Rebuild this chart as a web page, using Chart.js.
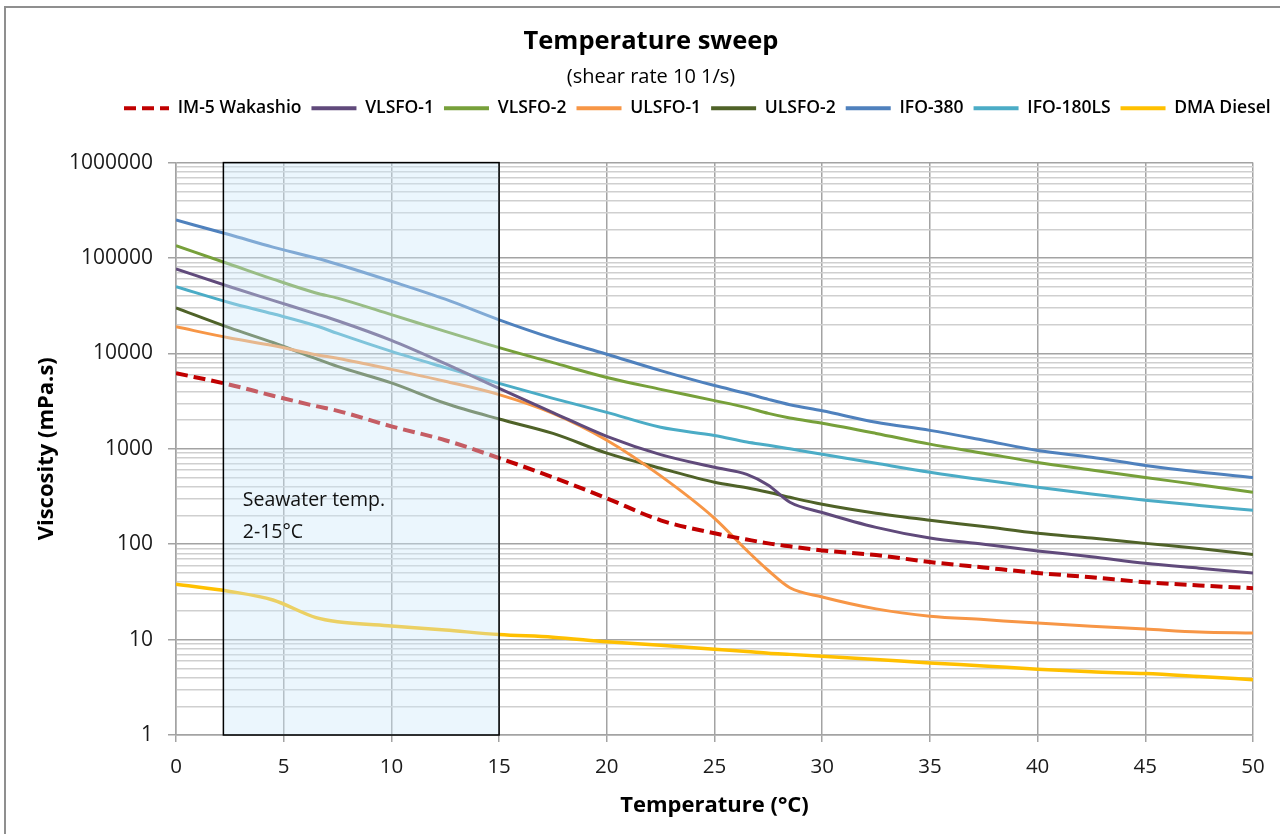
<!DOCTYPE html>
<html>
<head>
<meta charset="utf-8">
<title>Temperature sweep</title>
<script src="https://cdn.jsdelivr.net/npm/chart.js@4.4.1/dist/chart.umd.min.js"></script>
<style>
  html, body { margin: 0; padding: 0; background: #ffffff; }
  #wrap { width: 1280px; height: 834px; }
</style>
</head>
<body>
<div id="wrap"><canvas id="chart" width="1280" height="834"></canvas></div>
<script>
// ---------------- data ----------------
const temps = [0, 2.5, 4.5, 6.5, 7.5, 10, 12.5, 15, 17.5, 20, 22.5, 25, 26.5, 27.5, 28.5, 30, 32.5, 35, 37.5, 40, 42.5, 45, 47.5, 50];

const im5Wakashio = [6200, 4700, 3600, 2800, 2500, 1720, 1230, 800, 503, 303, 178, 130, 112, 102, 95, 86, 77, 65, 57, 50, 45, 40, 37, 34.6];
const vlsfo1      = [77000, 50000, 36000, 26000, 22000, 13700, 7800, 4300, 2400, 1350, 870, 640, 540, 415, 275, 215, 150, 116, 100, 85, 74, 63, 56, 50];
const vlsfo2      = [135000, 86000, 60000, 43000, 38000, 25500, 17000, 11500, 8000, 5600, 4200, 3200, 2700, 2350, 2100, 1850, 1450, 1120, 900, 720, 600, 500, 420, 350];
const ulsfo1      = [19000, 14500, 12100, 9700, 8900, 6800, 5100, 3700, 2350, 1230, 520, 187, 86, 53, 35, 28, 21, 17.6, 16.2, 14.9, 13.8, 12.9, 12, 11.7];
const ulsfo2      = [30000, 18500, 13000, 8800, 7300, 4900, 3000, 2050, 1450, 900, 625, 446, 390, 350, 310, 262, 211, 178, 153, 130, 116, 102, 90, 78];
const ifo380      = [250000, 175000, 130000, 100000, 86000, 57000, 37000, 22500, 14400, 9800, 6600, 4600, 3800, 3300, 2900, 2500, 1900, 1560, 1230, 960, 815, 670, 570, 500];
const ifo180ls    = [50000, 34000, 26000, 19500, 16200, 10500, 7100, 4850, 3380, 2410, 1680, 1380, 1180, 1090, 1000, 875, 704, 568, 470, 395, 335, 289, 255, 227];
const dmaDiesel   = [38, 32, 26, 17, 15.4, 13.9, 12.6, 11.3, 10.6, 9.5, 8.7, 7.9, 7.5, 7.2, 7.0, 6.7, 6.2, 5.7, 5.3, 4.9, 4.6, 4.4, 4.1, 3.8];

const seriesNames = ['IM-5 Wakashio', 'VLSFO-1', 'VLSFO-2', 'ULSFO-1', 'ULSFO-2', 'IFO-380', 'IFO-180LS', 'DMA Diesel'];
const seriesValues = [im5Wakashio, vlsfo1, vlsfo2, ulsfo1, ulsfo2, ifo380, ifo180ls, dmaDiesel];
const seriesColors = ['#C00000', '#604A7B', '#77A03A', '#F79646', '#4F6228', '#4F81BD', '#4BACC6', '#FFC000'];

const xTickValues = [0, 5, 10, 15, 20, 25, 30, 35, 40, 45, 50];
const yTickLabels = [1, 10, 100, 1000, 10000, 100000, 1000000];

const seawaterRange = [2.2, 15];
const seawaterText = ['Seawater temp.', '2-15°C'];
const seawaterTextAt = [3.1, 285];

const titleText = 'Temperature sweep';
const subtitleText = '(shear rate 10 1/s)';
const xTitle = 'Temperature (°C)';
const yTitle = 'Viscosity (mPa.s)';

// ---------------- helpers ----------------
const yGridValues = [];
for (let i = 0; i < yTickLabels.length - 1; i++) {
  for (let m = 1; m <= 9; m++) yGridValues.push(m * yTickLabels[i]);
}
yGridValues.push(yTickLabels[yTickLabels.length - 1]);
const isMajor = v => yTickLabels.includes(v);

const GRID_MAJOR = '#a3a3a3';
const GRID_MINOR = '#cfcfcf';
const TICK_COLOR = '#1a1a1a';

Chart.defaults.font.family = "'Open Sans', 'Noto Sans', sans-serif";
Chart.defaults.color = TICK_COLOR;

const datasets = seriesNames.map((name, i) => ({
  label: name,
  data: temps.map((t, k) => ({ x: t, y: seriesValues[i][k] })),
  borderColor: seriesColors[i],
  backgroundColor: seriesColors[i],
  borderWidth: i === 0 ? 4 : (i === 7 ? 3.5 : 3),
  borderDash: i === 0 ? [12, 6] : [],
  pointRadius: 0,
  pointHoverRadius: 0,
  fill: false,
  cubicInterpolationMode: 'monotone'
}));

const LEGEND_X = 124;
const LEGEND_H = 73;
const TITLE_CENTER = 651;

const decor = {
  id: 'decor',
  afterInit(chart) {
    const L = chart.legend;
    if (L) {
      const fit0 = L.fit.bind(L);
      L.fit = function () { fit0(); this.height = LEGEND_H; };
      const draw0 = L.draw.bind(L);
      L.draw = function () {
        const c = this.ctx;
        c.save();
        c.translate(LEGEND_X - (this.left + this.options.labels.padding), 0);
        draw0();
        c.restore();
      };
    }
    chart.boxes.forEach(b => {
      if (b !== L && b.options && (b.options.text === titleText || b.options.text === subtitleText)) {
        const d0 = b.draw.bind(b);
        b.draw = function () {
          const c = this.ctx;
          c.save();
          c.translate(TITLE_CENTER - (this.left + this.right) / 2, 0);
          d0();
          c.restore();
        };
      }
    });
  },
  beforeDraw(chart) {
    const c = chart.ctx;
    c.save();
    c.fillStyle = '#ffffff';
    c.fillRect(0, 0, chart.width, chart.height);
    c.strokeStyle = '#8f8f8f';
    c.lineWidth = 2;
    c.strokeRect(5, 7, chart.width + 40, chart.height + 40);
    c.restore();
  },
  afterDatasetsDraw(chart) {
    const c = chart.ctx;
    const xs = chart.scales.x, ys = chart.scales.y, a = chart.chartArea;
    const x0 = xs.getPixelForValue(seawaterRange[0]);
    const x1 = xs.getPixelForValue(seawaterRange[1]);
    c.save();
    c.fillStyle = 'rgba(205, 232, 250, 0.4)';
    c.fillRect(x0, a.top, x1 - x0, a.bottom - a.top);
    c.strokeStyle = '#000000';
    c.lineWidth = 1.5;
    c.strokeRect(x0, a.top, x1 - x0, a.bottom - a.top);
    c.fillStyle = '#111111';
    c.font = "19.5px 'Open Sans', sans-serif";
    c.textAlign = 'left';
    c.textBaseline = 'middle';
    const tx = xs.getPixelForValue(seawaterTextAt[0]);
    const ty = ys.getPixelForValue(seawaterTextAt[1]);
    seawaterText.forEach((s, i) => c.fillText(s, tx, ty + i * 32));
    c.restore();
  }
};

new Chart(document.getElementById('chart').getContext('2d'), {
  type: 'line',
  data: { datasets },
  options: {
    responsive: false,
    animation: false,
    devicePixelRatio: 1,
    events: [],
    layout: { padding: { top: 18, left: 0, right: 27, bottom: 0 } },
    plugins: {
      title: {
        display: true, text: titleText, color: '#000000',
        font: { size: 25.5, weight: 'bold' }, padding: { top: 8, bottom: 2 }
      },
      subtitle: {
        display: true, text: subtitleText, color: '#000000',
        font: { size: 20, weight: 'normal' }, padding: { top: 7, bottom: 0 }
      },
      legend: {
        display: true, position: 'top', align: 'start',
        labels: {
          usePointStyle: true, pointStyle: 'line', pointStyleWidth: 45, boxWidth: 45,
          padding: 10, color: '#000000', font: { size: 17.5, weight: '600' },
          generateLabels: chart => {
            const items = Chart.defaults.plugins.legend.labels.generateLabels(chart);
            items.forEach(it => {
              const ds = chart.data.datasets[it.datasetIndex];
              it.lineDash = ds.borderDash;
              it.lineWidth = 4;
              it.strokeStyle = ds.borderColor;
              it.fillStyle = ds.borderColor;
              it.pointStyle = 'line';
            });
            return items;
          }
        }
      },
      tooltip: { enabled: false }
    },
    scales: {
      x: {
        type: 'linear', min: 0, max: 50,
        afterBuildTicks: s => { s.ticks = xTickValues.map(v => ({ value: v })); },
        afterFit: s => { s.height = 99; },
        ticks: { autoSkip: false, maxRotation: 0, padding: 13, color: TICK_COLOR, font: { size: 20.5 } },
        grid: { color: GRID_MAJOR, lineWidth: 1.5, tickLength: 7, tickColor: GRID_MAJOR, tickWidth: 1.5 },
        border: { color: GRID_MAJOR, width: 1.5 },
        title: { display: true, text: xTitle, color: '#000000', font: { size: 22, weight: 'bold' }, padding: { top: 0, bottom: 15 } }
      },
      y: {
        type: 'logarithmic', min: 1, max: 1000000,
        afterBuildTicks: s => { s.ticks = yGridValues.map(v => ({ value: v })); },
        afterFit: s => { s.width = 176; },
        ticks: {
          autoSkip: false, padding: 15, color: TICK_COLOR, font: { size: 21 },
          callback: v => (isMajor(v) ? String(v) : '')
        },
        grid: {
          color: c => (c.tick && isMajor(c.tick.value) ? GRID_MAJOR : GRID_MINOR),
          lineWidth: 1.5,
          tickLength: 8,
          tickWidth: 1.5,
          tickColor: c => (c.tick && isMajor(c.tick.value) ? GRID_MAJOR : 'rgba(0,0,0,0)')
        },
        border: { color: GRID_MAJOR, width: 1.5 },
        title: { display: true, text: yTitle, color: '#000000', font: { size: 22, weight: 'bold' }, padding: { top: 34, bottom: 0 } }
      }
    }
  },
  plugins: [decor]
});
</script>
</body>
</html>
